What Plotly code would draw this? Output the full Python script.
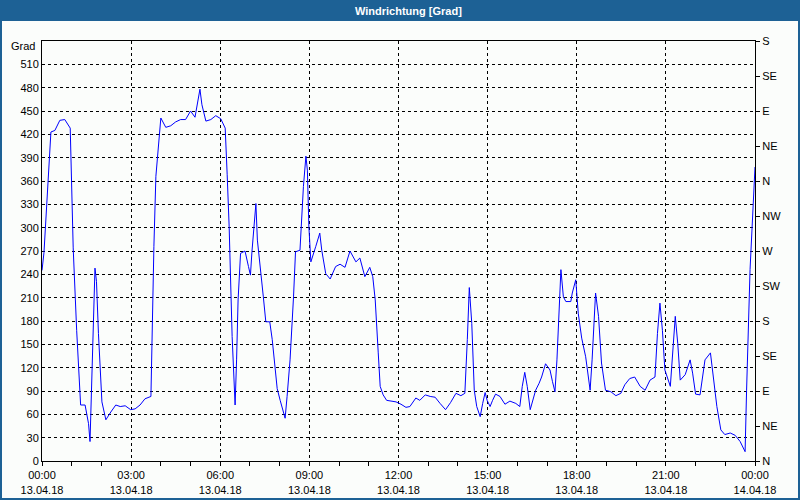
import plotly.graph_objects as go

# ---- data (minutes after 13.04.18 00:00, wind direction in degrees) ----
minutes = [0, 4, 18, 26, 36, 46, 57, 63, 70, 78, 87, 94, 97, 107, 110, 114, 121, 129, 139, 149,
           158, 168, 179, 188, 198, 208, 220, 222, 226, 230, 236, 240, 250, 260, 270, 280, 290,
           300, 309, 319, 323, 331, 341, 351, 361, 370, 374, 378, 384, 390, 393, 396, 401, 410,
           417, 421, 424, 428, 432, 435, 442, 447, 452, 460, 465, 471, 475, 481, 485, 491, 495,
           501, 508, 512, 521, 524, 528, 533, 536, 539, 543, 553, 561, 565, 573, 582, 593, 602,
           612, 622, 634, 642, 652, 662, 668, 673, 676, 679, 683, 689, 696, 703, 715, 725, 735,
           743, 755, 763, 774, 784, 794, 804, 815, 825, 836, 846, 854, 859, 863, 868, 873, 878,
           885, 890, 895, 899, 905, 910, 916, 925, 935, 945, 957, 965, 970, 975, 980, 986, 990,
           997, 1004, 1009, 1017, 1026, 1031, 1036, 1040, 1044, 1048, 1053, 1058, 1068, 1071,
           1078, 1083, 1090, 1098, 1107, 1111, 1118, 1124, 1130, 1138, 1149, 1159, 1169, 1177,
           1187, 1197, 1208, 1218, 1228, 1238, 1243, 1248, 1253, 1258, 1269, 1274, 1279, 1284,
           1289, 1299, 1309, 1314, 1320, 1329, 1339, 1350, 1356, 1363, 1371, 1379, 1390, 1400,
           1410, 1420, 1423, 1428, 1430, 1440]
direction = [245, 268, 423, 425, 438, 439, 428, 274, 168, 72, 72, 48, 25, 248, 231, 164, 76, 53, 63, 72,
             70, 71, 66, 67, 72, 80, 83, 164, 276, 366, 417, 441, 429, 431, 436, 439, 439,
             450, 442, 478, 458, 437, 439, 444, 440, 428, 368, 301, 160, 72, 130, 207, 267, 270,
             250, 239, 269, 301, 331, 284, 246, 211, 179, 179, 156, 117, 93, 78, 70, 55, 83,
             130, 211, 269, 271, 310, 353, 392, 374, 301, 256, 276, 293, 271, 241, 234, 250, 253,
             249, 270, 256, 261, 237, 249, 237, 207, 180, 140, 96, 85, 78, 77, 76, 73, 69,
             70, 81, 78, 85, 83, 82, 74, 66, 75, 87, 84, 87, 156, 223, 177, 91, 70,
             57, 74, 88, 78, 70, 78, 86, 83, 73, 77, 74, 70, 96, 114, 96, 66, 76,
             91, 100, 108, 125, 117, 102, 89, 130, 198, 246, 211, 205, 205, 216,
             233, 190, 158, 134, 91, 130, 216, 186, 126, 91, 89, 84, 87, 98,
             106, 108, 96, 91, 104, 108, 164, 203, 168, 117, 96, 147, 186, 151,
             104, 111, 130, 113, 86, 85, 130, 139, 108, 70, 40, 34, 36, 33,
             25, 12, 91, 194, 246, 378]

x_tick_hours = [0, 3, 6, 9, 12, 15, 18, 21, 24]
x_tick_text = ["00:00<br>13.04.18", "03:00<br>13.04.18", "06:00<br>13.04.18", "09:00<br>13.04.18",
               "12:00<br>13.04.18", "15:00<br>13.04.18", "18:00<br>13.04.18", "21:00<br>13.04.18",
               "00:00<br>14.04.18"]
left_ticks = list(range(0, 540, 30))
right_ticks = [0, 45, 90, 135, 180, 225, 270, 315, 360, 405, 450, 495, 540]
right_labels = ["N", "NE", "E", "SE", "S", "SW", "W", "NW", "N", "NE", "E", "SE", "S"]

hours = [m / 60 for m in minutes]

W, H = 800, 500
ML, MR, MT, MB = 42, 45, 41, 39
PW, PH = W - ML - MR, H - MT - MB
BLUE = "#1d6195"
BG = "#fbfdfb"
FONT = "Liberation Sans, Arial, sans-serif"

def px_x(px):
    return (px - ML) / PW

def px_y(py):
    return (H - MB - py) / PH

fig = go.Figure()
fig.add_trace(go.Scatter(x=hours, y=direction, mode="lines",
                         line=dict(color="#0000ff", width=1), showlegend=False,
                         hoverinfo="skip"))
# invisible trace on right axis
fig.add_trace(go.Scatter(x=[0], y=[0], yaxis="y2", mode="markers",
                         marker=dict(opacity=0), showlegend=False, hoverinfo="skip"))

fig.update_layout(
    width=W, height=H,
    margin=dict(l=ML, r=MR, t=MT, b=MB, pad=0, autoexpand=False),
    paper_bgcolor=BG, plot_bgcolor=BG,
    font=dict(family=FONT, size=11, color="black"),
    xaxis=dict(range=[0, 24], tickvals=x_tick_hours, ticktext=x_tick_text,
               showgrid=True, gridcolor="black", griddash="3px,3px", gridwidth=1,
               ticks="outside", ticklen=4, tickcolor="black",
               minor=dict(dtick=1, tick0=0, ticks="outside", ticklen=4, tickcolor="black",
                          showgrid=False),
               showline=True, linecolor="black", linewidth=1, mirror=True,
               zeroline=False, fixedrange=True, automargin=False),
    yaxis=dict(range=[0, 540], tickvals=left_ticks,
               showgrid=True, gridcolor="black", griddash="3px,3px", gridwidth=1,
               ticks="", showline=True, linecolor="black", linewidth=1, mirror=True,
               zeroline=False, fixedrange=True, automargin=False),
    yaxis2=dict(range=[0, 540], tickvals=right_ticks, ticktext=right_labels,
                overlaying="y", side="right", showgrid=False, zeroline=False,
                ticks="outside", ticklen=4, tickcolor="black", showline=False,
                fixedrange=True, automargin=False),
)

shapes = [
    # title bar
    dict(type="rect", xref="paper", yref="paper",
         x0=px_x(0), x1=px_x(W), y0=px_y(21), y1=px_y(0),
         fillcolor=BLUE, line=dict(width=0), layer="below"),
    # outer border
    dict(type="rect", xref="paper", yref="paper",
         x0=px_x(1), x1=px_x(W - 1), y0=px_y(H - 1), y1=px_y(1),
         fillcolor="rgba(0,0,0,0)", line=dict(color=BLUE, width=2)),
]
fig.update_layout(shapes=shapes)

fig.add_annotation(text="<b>Windrichtung [Grad]</b>", xref="paper", yref="paper",
                   x=px_x(W / 2 + 9), y=px_y(11), showarrow=False,
                   font=dict(color="white", size=11, family=FONT),
                   xanchor="center", yanchor="middle")
fig.add_annotation(text="Grad", xref="paper", yref="paper",
                   x=px_x(37), y=px_y(46), showarrow=False,
                   font=dict(color="black", size=11, family=FONT),
                   xanchor="right", yanchor="middle")

fig.write_html("out.html",
               config={"displayModeBar": False},
               post_script="document.body.style.margin='0px';document.body.style.padding='0px';"
                           "document.body.style.overflow='hidden';")
